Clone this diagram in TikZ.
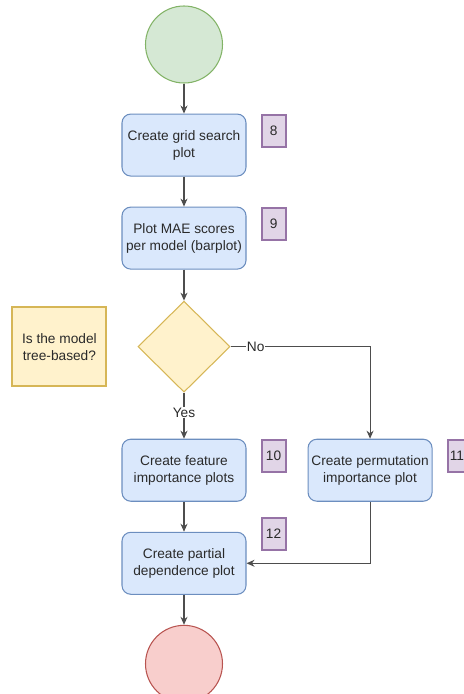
\documentclass[tikz,border=0pt]{standalone}
\usepackage{fontspec}
\setmainfont{Liberation Sans}
\usepackage{tikz}
\usetikzlibrary{arrows.meta, positioning, shapes.geometric}
\definecolor{flowBlue}{HTML}{DAE8FC}
\definecolor{flowBlueDark}{HTML}{6C8EBF}
\definecolor{startGreen}{HTML}{D5E8D4}
\definecolor{startGreenDark}{HTML}{82B366}
\definecolor{endRed}{HTML}{F8CECC}
\definecolor{endRedDark}{HTML}{B85450}
\definecolor{noteYellow}{HTML}{FFF2CC}
\definecolor{noteYellowDark}{HTML}{D6B656}
\definecolor{tagPurple}{HTML}{E1D5E7}
\definecolor{tagPurpleDark}{HTML}{9673A6}
\definecolor{lineGray}{HTML}{4D4D4D}
\definecolor{textDark}{HTML}{2A2A2A}
\tikzset{
  arrowF/.style={-{Stealth[length=1.6mm, width=1.4mm]}, lineGray, line width=0.6pt},
  stepBox/.style={rectangle, rounded corners=5pt, draw=flowBlueDark, fill=flowBlue,
                  align=center, text=textDark, line width=0.6pt,
                  minimum width=2.48cm, minimum height=1.24cm, inner sep=1pt},
  tagBox/.style={rectangle, draw=tagPurpleDark, fill=tagPurple, text=textDark,
                 line width=1.2pt, minimum width=0.48cm, minimum height=0.64cm,
                 inner sep=0pt},
  noteBox/.style={rectangle, draw=noteYellowDark, fill=noteYellow, text=textDark,
                  align=center, line width=1.2pt, minimum width=1.88cm,
                  minimum height=1.58cm, inner sep=1pt},
  termStart/.style={circle, draw=startGreenDark, fill=startGreen,
                    minimum size=1.54cm, line width=0.6pt},
  termEnd/.style={circle, draw=endRedDark, fill=endRed,
                  minimum size=1.54cm, line width=0.6pt},
  decBox/.style={diamond, draw=noteYellowDark, fill=noteYellow, line width=0.6pt,
                 minimum width=1.84cm, minimum height=1.82cm, inner sep=0pt},
  edgeLbl/.style={fill=white, text=textDark, inner sep=0.5pt},
}
\begin{document}
\begin{tikzpicture}[node distance=0.6cm and 1.22cm, font=\fontsize{7.8}{9.6}\selectfont]
    \useasboundingbox (0,0) rectangle (9.26,-13.88);
    \node[termStart] (start) at (3.68,-0.89) {};
    \node[stepBox, below=of start] (grid) {Create grid search\\plot};
    \node[stepBox, below=of grid] (mae) {Plot MAE scores\\per model (barplot)};
    \node[decBox, below=0.62cm of mae] (tree) {};
    \node[noteBox, left=0.6cm of tree] (ask) {Is the model\\tree-based?};
    \node[stepBox, below=0.92cm of tree] (feat) {Create feature\\importance plots};
    \node[stepBox, right=of feat] (perm) {Create permutation\\importance plot};
    \node[stepBox, below=of feat] (pdp) {Create partial\\dependence plot};
    \node[termEnd, below=of pdp] (stop) {};
    % step numbers
    \node[tagBox, right=0.28cm of grid.north east, anchor=north west] (t8) {8};
    \node[tagBox, right=0.28cm of mae.north east, anchor=north west] (t9) {9};
    \node[tagBox, right=0.28cm of feat.north east, anchor=north west] (t10) {10};
    \node[tagBox, right=0.28cm of perm.north east, anchor=north west] (t11) {11\kern3pt};
    \node[tagBox, above right=0.3cm and 0.28cm of pdp.north east, anchor=north west] (t12) {12};
    \draw[arrowF] (start) -- (grid);
    \draw[arrowF] (grid) -- (mae);
    \draw[arrowF] (mae) -- (tree);
    \draw[arrowF] (tree) -- node[edgeLbl, pos=0.43] {Yes} (feat);
    \draw[arrowF] (tree.east) -| node[edgeLbl, pos=0.09] {No} (perm.north);
    \draw[arrowF] (feat) -- (pdp);
    \draw[arrowF] (perm.south) |- (pdp.east);
    \draw[arrowF] (pdp) -- (stop);
  \end{tikzpicture}
\end{document}
